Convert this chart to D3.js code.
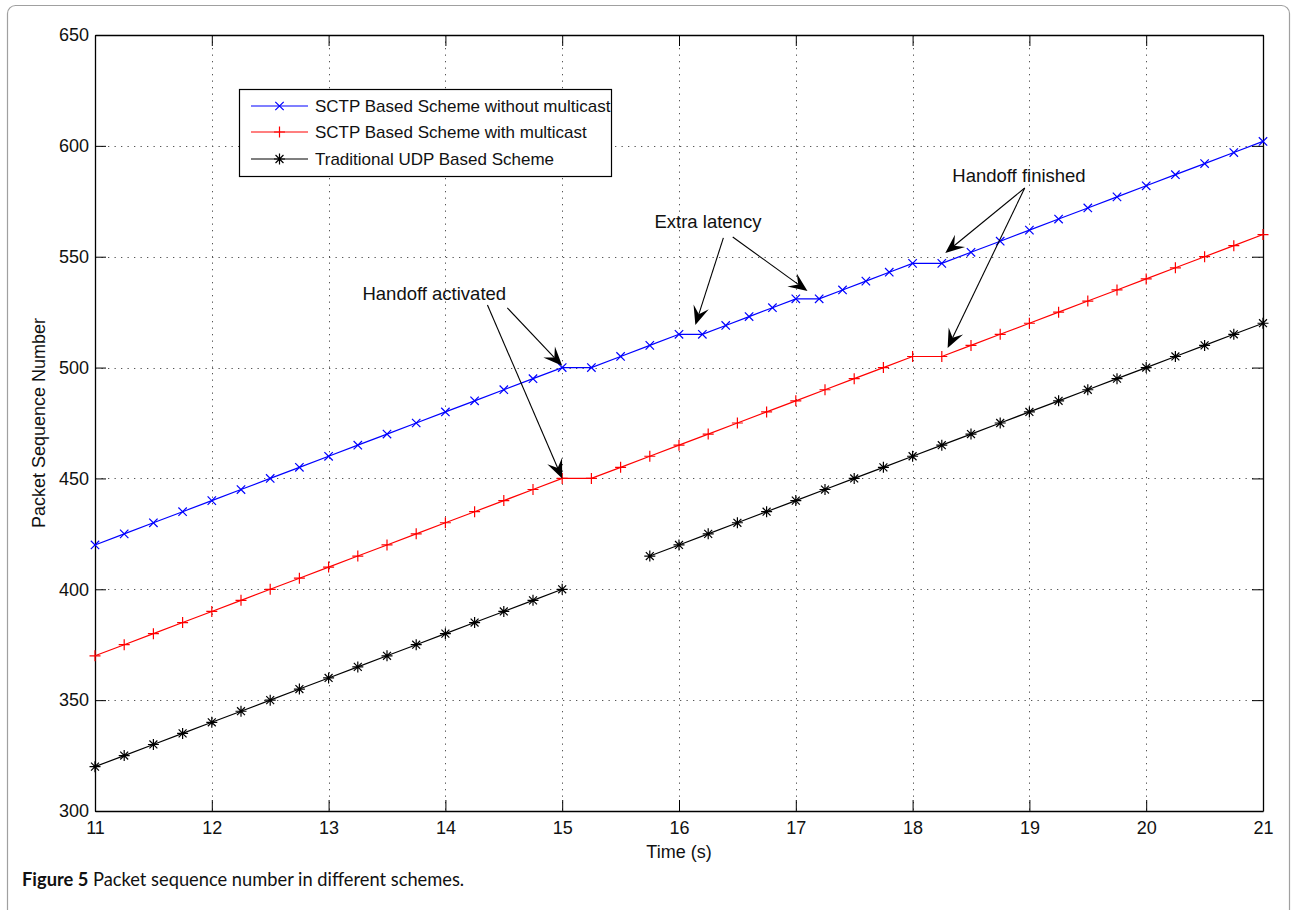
<!DOCTYPE html>
<html>
<head>
<meta charset="utf-8">
<script src="https://cdn.jsdelivr.net/npm/d3@7"></script>
<style>
  html, body { margin: 0; padding: 0; background: #fff; }
  svg { display: block; }
</style>
</head>
<body>
<svg id="chart" width="1292" height="910"></svg>
<script>
// ---- data ----
const xTicks = [11, 12, 13, 14, 15, 16, 17, 18, 19, 20, 21];
const yTicks = [300, 350, 400, 450, 500, 550, 600, 650];

const seriesNames = [
  "SCTP Based Scheme without multicast",
  "SCTP Based Scheme with multicast",
  "Traditional UDP Based Scheme"
];

const sctpNoMcTime = [11, 11.25, 11.5, 11.75, 12, 12.25, 12.5, 12.75, 13, 13.25, 13.5, 13.75, 14, 14.25, 14.5, 14.75, 15, 15.25, 15.5, 15.75, 16, 16.2, 16.4, 16.6, 16.8, 17, 17.2, 17.4, 17.6, 17.8, 18, 18.25, 18.5, 18.75, 19, 19.25, 19.5, 19.75, 20, 20.25, 20.5, 20.75, 21];
const sctpNoMcSeq  = [420, 425, 430, 435, 440, 445, 450, 455, 460, 465, 470, 475, 480, 485, 490, 495, 500, 500, 505, 510, 515, 515, 519, 523, 527, 531, 531, 535, 539, 543, 547, 547, 552, 557, 562, 567, 572, 577, 582, 587, 592, 597, 602];

const sctpMcTime = [11, 11.25, 11.5, 11.75, 12, 12.25, 12.5, 12.75, 13, 13.25, 13.5, 13.75, 14, 14.25, 14.5, 14.75, 15, 15.25, 15.5, 15.75, 16, 16.25, 16.5, 16.75, 17, 17.25, 17.5, 17.75, 18, 18.25, 18.5, 18.75, 19, 19.25, 19.5, 19.75, 20, 20.25, 20.5, 20.75, 21];
const sctpMcSeq  = [370, 375, 380, 385, 390, 395, 400, 405, 410, 415, 420, 425, 430, 435, 440, 445, 450, 450, 455, 460, 465, 470, 475, 480, 485, 490, 495, 500, 505, 505, 510, 515, 520, 525, 530, 535, 540, 545, 550, 555, 560];

const udpTime = [11, 11.25, 11.5, 11.75, 12, 12.25, 12.5, 12.75, 13, 13.25, 13.5, 13.75, 14, 14.25, 14.5, 14.75, 15, 15.75, 16, 16.25, 16.5, 16.75, 17, 17.25, 17.5, 17.75, 18, 18.25, 18.5, 18.75, 19, 19.25, 19.5, 19.75, 20, 20.25, 20.5, 20.75, 21];
const udpSeq  = [320, 325, 330, 335, 340, 345, 350, 355, 360, 365, 370, 375, 380, 385, 390, 395, 400, 415, 420, 425, 430, 435, 440, 445, 450, 455, 460, 465, 470, 475, 480, 485, 490, 495, 500, 505, 510, 515, 520];
const udpGapAfter = 15; // no packets between 15 and 15.75

// annotations (data coordinates)
const annotationTexts = ["Handoff activated", "Extra latency", "Handoff finished"];
const annotationTextPos = [[13.29, 530.5], [15.79, 563], [18.34, 583.7]];
const annotationArrows = [
  // [tailX, tailY, tipX, tipY]
  [14.53, 526.9, 15.0, 500.8],
  [14.36, 528.2, 15.0, 450.0],
  [16.38, 558.5, 16.14, 519.2],
  [16.46, 558.9, 17.10, 534.5],
  [18.96, 581.0, 18.28, 551.7],
  [18.96, 581.0, 18.30, 508.8]
];

// ---- layout ----
const svg = d3.select("#chart");
const L = 95, R = 1263, T = 35, B = 811;
const FONT = "'Liberation Sans', Arial, Helvetica, sans-serif";

const x = d3.scaleLinear().domain([11, 21]).range([L, R]);
const y = d3.scaleLinear().domain([300, 650]).range([B, T]);

// figure frame
svg.append("rect").attr("x", 7.5).attr("y", 5.5).attr("width", 1282).attr("height", 930)
  .attr("rx", 8).attr("fill", "none").attr("stroke", "#a0a0a0").attr("stroke-width", 1.2);

// grid
const grid = svg.append("g");
grid.selectAll("line.vx").data(xTicks.slice(1, -1)).join("line")
  .attr("x1", d => Math.round(x(d)) + 0.5).attr("x2", d => Math.round(x(d)) + 0.5)
  .attr("y1", T).attr("y2", B)
  .attr("stroke", "#555").attr("stroke-width", 1).attr("stroke-dasharray", "1.3,5.2");
grid.selectAll("line.hy").data(yTicks.slice(1, -1)).join("line")
  .attr("y1", d => Math.round(y(d)) + 0.5).attr("y2", d => Math.round(y(d)) + 0.5)
  .attr("x1", L).attr("x2", R)
  .attr("stroke", "#555").attr("stroke-width", 1).attr("stroke-dasharray", "1.3,5.2");

// axes
const tickLen = 11;
const axB = svg.append("g").attr("transform", `translate(0,${B})`)
  .call(d3.axisBottom(x).tickValues(xTicks).tickSizeInner(-tickLen).tickSizeOuter(0).tickPadding(10));
const axT = svg.append("g").attr("transform", `translate(0,${T})`)
  .call(d3.axisTop(x).tickValues(xTicks).tickSizeInner(-tickLen).tickSizeOuter(0).tickFormat(""));
const axL = svg.append("g").attr("transform", `translate(${L},0)`)
  .call(d3.axisLeft(y).tickValues(yTicks).tickSizeInner(-tickLen).tickSizeOuter(0).tickPadding(6));
const axR = svg.append("g").attr("transform", `translate(${R},0)`)
  .call(d3.axisRight(y).tickValues(yTicks).tickSizeInner(-tickLen).tickSizeOuter(0).tickFormat(""));
[axB, axT, axL, axR].forEach(a => {
  a.select(".domain").attr("stroke", "#000").attr("stroke-width", 1.3);
  a.selectAll(".tick line").attr("stroke", "#000").attr("stroke-width", 1);
  a.selectAll("text").attr("font-family", FONT).attr("font-size", 18).attr("fill", "#111");
});

// axis labels
svg.append("text").attr("x", (L + R) / 2).attr("y", 858).attr("text-anchor", "middle")
  .attr("font-family", FONT).attr("font-size", 18).attr("fill", "#111").text("Time (s)");
svg.append("text").attr("transform", `translate(45,${(T + B) / 2}) rotate(-90)`)
  .attr("text-anchor", "middle").attr("font-family", FONT).attr("font-size", 18).attr("fill", "#111")
  .text("Packet Sequence Number");

// markers
function markerPath(type, s) {
  if (type === "x") return `M${-s},${-s}L${s},${s}M${-s},${s}L${s},${-s}`;
  if (type === "+") return `M${-s},0L${s},0M0,${-s}L0,${s}`;
  const d = s * 0.72;
  return `M${-s},0L${s},0M0,${-s}L0,${s}M${-d},${-d}L${d},${d}M${-d},${d}L${d},${-d}`;
}

const series = [
  { name: seriesNames[0], t: sctpNoMcTime, v: sctpNoMcSeq, color: "#0000ff", marker: "x", ms: 4.2 },
  { name: seriesNames[1], t: sctpMcTime, v: sctpMcSeq, color: "#ff0000", marker: "+", ms: 5.5 },
  { name: seriesNames[2], t: udpTime, v: udpSeq, color: "#000000", marker: "*", ms: 5.5 }
];

const plot = svg.append("g");
series.forEach(s => {
  const pts = s.t.map((t, i) => ({ t, v: s.v[i] }));
  let segments = [pts];
  if (s.marker === "*") {
    segments = [pts.filter(p => p.t <= udpGapAfter), pts.filter(p => p.t > udpGapAfter)];
  }
  const line = d3.line().x(d => x(d.t)).y(d => y(d.v));
  segments.forEach(seg => {
    plot.append("path").attr("d", line(seg)).attr("fill", "none")
      .attr("stroke", s.color).attr("stroke-width", 1.2);
  });
  plot.selectAll(null).data(pts).join("path")
    .attr("transform", d => `translate(${x(d.t)},${y(d.v)})`)
    .attr("d", markerPath(s.marker, s.ms)).attr("fill", "none")
    .attr("stroke", s.color).attr("stroke-width", 1.2);
});

// annotations
const ann = svg.append("g");
annotationTexts.forEach((txt, i) => {
  ann.append("text").attr("x", x(annotationTextPos[i][0])).attr("y", y(annotationTextPos[i][1]))
    .attr("font-family", FONT).attr("font-size", 18.5).attr("fill", "#111").text(txt);
});
annotationArrows.forEach(a => {
  const x0 = x(a[0]), y0 = y(a[1]), x1 = x(a[2]), y1 = y(a[3]);
  const dx = x1 - x0, dy = y1 - y0, len = Math.hypot(dx, dy);
  const ux = dx / len, uy = dy / len, nx = -uy, ny = ux;
  const HL = 19, HW = 8, notch = 0.6 * HL;
  const bx = x1 - HL * ux, by = y1 - HL * uy;
  const mx = x1 - notch * ux, my = y1 - notch * uy;
  ann.append("line").attr("x1", x0).attr("y1", y0).attr("x2", mx).attr("y2", my)
    .attr("stroke", "#000").attr("stroke-width", 1.1);
  ann.append("path")
    .attr("d", `M${x1},${y1}L${bx + HW * nx},${by + HW * ny}L${mx},${my}L${bx - HW * nx},${by - HW * ny}Z`)
    .attr("fill", "#000");
});

// legend
const lg = svg.append("g");
lg.append("rect").attr("x", 239.5).attr("y", 89.5).attr("width", 372).attr("height", 87)
  .attr("fill", "#fff").attr("stroke", "#000").attr("stroke-width", 1.2);
const rowsY = [106, 132, 159];
series.forEach((s, i) => {
  lg.append("line").attr("x1", 251).attr("x2", 308).attr("y1", rowsY[i]).attr("y2", rowsY[i])
    .attr("stroke", s.color).attr("stroke-width", 1.2);
  lg.append("path").attr("transform", `translate(279.5,${rowsY[i]})`)
    .attr("d", markerPath(s.marker, s.ms)).attr("fill", "none").attr("stroke", s.color).attr("stroke-width", 1.2);
  lg.append("text").attr("x", 315).attr("y", rowsY[i] + 6)
    .attr("font-family", FONT).attr("font-size", 17).attr("fill", "#111").text(s.name);
});

// caption
const cap = svg.append("text").attr("x", 22).attr("y", 886)
  .attr("font-family", "Lato, 'Open Sans', sans-serif").attr("font-size", 18.3).attr("fill", "#111");
cap.append("tspan").attr("font-weight", "bold").text("Figure 5");
cap.append("tspan").text(" Packet sequence number in different schemes.");
</script>
</body>
</html>
